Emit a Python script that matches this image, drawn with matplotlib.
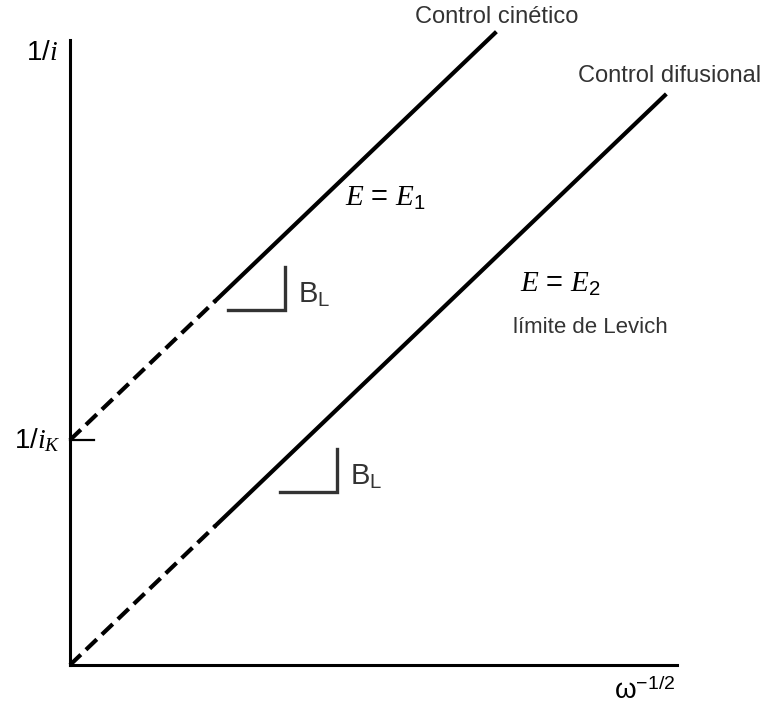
import matplotlib
matplotlib.use("Agg")
import matplotlib.pyplot as plt
import numpy as np

plt.rcParams['font.family'] = ['Liberation Sans', 'DejaVu Sans']
plt.rcParams['mathtext.fontset'] = 'custom'
plt.rcParams['mathtext.rm'] = 'Liberation Sans'
plt.rcParams['mathtext.it'] = 'Liberation Serif:italic'
plt.rcParams['mathtext.bf'] = 'Liberation Sans:bold'

# Koutecky-Levich lines: 1/i = 1/i_K + B_L * w^-1/2
slope = 0.93
intercepts = [3.6, 0.0]          # control cinetico, control difusional
x_dash_end = 2.4                 # extrapolated part drawn dashed
x_ends = [7.0, 9.8]
line_names = ['Control cinético', 'Control difusional']

fig = plt.figure(figsize=(7.63, 7.09), dpi=100)
ax = fig.add_axes([70 / 763, 44 / 709, 607 / 763, 625 / 709])
ax.set_xlim(0, 10)
ax.set_ylim(0, 10)
for s in ['top', 'right']:
    ax.spines[s].set_visible(False)
for s in ['left', 'bottom']:
    ax.spines[s].set_linewidth(2.2)
ax.set_xticks([])
ax.set_yticks([])

for b, xe in zip(intercepts, x_ends):
    xd = np.array([0, x_dash_end])
    ax.plot(xd, b + slope * xd, color='black', lw=3, dashes=(3.6, 1.7),
            solid_capstyle='butt', clip_on=False)
    xs = np.array([x_dash_end, xe])
    ax.plot(xs, b + slope * xs, color='black', lw=3, clip_on=False)

# short tick at the intercept 1/i_K
ax.plot([0, 0.4], [intercepts[0], intercepts[0]], color='black', lw=1.6, clip_on=False)

# slope markers
for x0, y0 in [(2.6, 5.68), (3.46, 2.77)]:
    ax.plot([x0, x0 + 0.94, x0 + 0.94], [y0, y0, y0 + 0.69], color='#333333',
            lw=2.4, solid_joinstyle='miter', clip_on=False)
    ax.text(x0 + 1.16, y0 + 0.24, r'$\mathrm{B}_\mathrm{L}$', fontsize=21,
            color='#333333', ha='left', va='center')

ax.text(7.03, 10.37, line_names[0], fontsize=17, color='#333333',
        ha='center', va='center', clip_on=False)
ax.text(9.88, 9.42, line_names[1], fontsize=17, color='#333333',
        ha='center', va='center', clip_on=False)

ax.text(5.2, 7.47, r'$E\, =\, E_1$', fontsize=21, ha='center', va='center')
ax.text(8.07, 6.1, r'$E\, =\, E_2$', fontsize=21, ha='center', va='center')
ax.text(8.57, 5.4, 'límite de Levich', fontsize=16, color='#333333',
        ha='center', va='center')

ax.text(-0.2, 9.8, r'1/$i$', fontsize=20, ha='right', va='center', clip_on=False)
ax.text(-0.15, intercepts[0], r'1/$i_K$', fontsize=20, ha='right', va='center',
        clip_on=False)
ax.text(9.47, -0.42, r'ω$^{\mathrm{-1/2}}$', fontsize=20, ha='center', va='center',
        clip_on=False)

fig.savefig('out.png', dpi=100)
